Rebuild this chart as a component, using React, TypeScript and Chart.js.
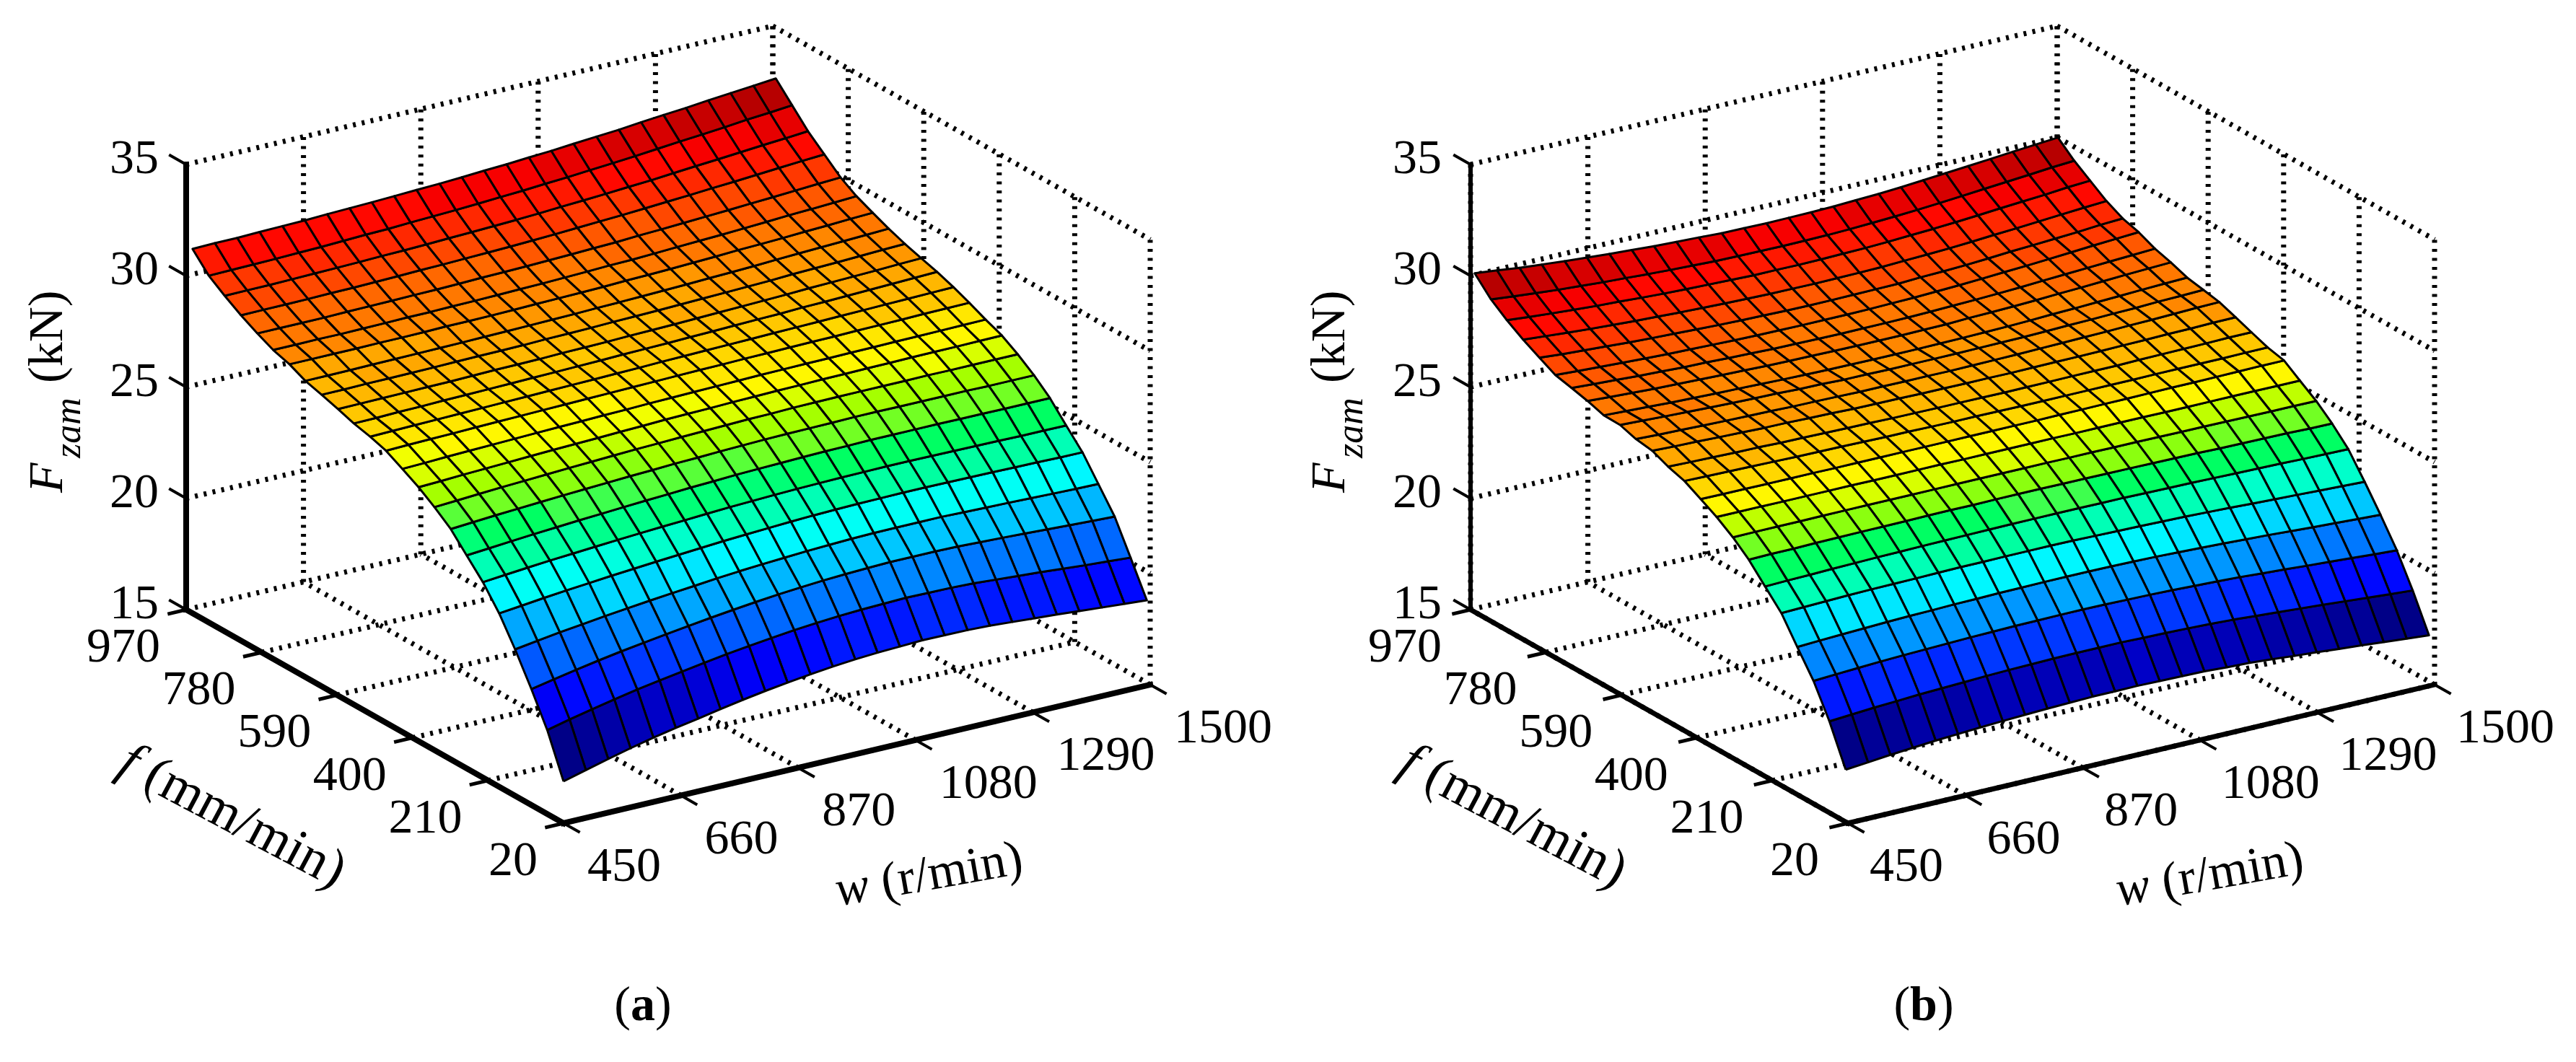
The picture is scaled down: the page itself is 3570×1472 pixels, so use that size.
import React, { useEffect, useRef } from "react";
import { Chart, registerables } from "chart.js";

Chart.register(...registerables);

const CANVAS_W = 3570;
const CANVAS_H = 1472;

const zTicks = [15, 20, 25, 30, 35];
const fTicks = [20, 210, 400, 590, 780, 970];
const wTicks = [450, 660, 870, 1080, 1290, 1500];

const fGrid = [20, 61, 101, 142, 182, 223, 264, 304, 345, 385, 426, 467, 507, 548, 588, 629, 670, 710, 751, 791, 832, 873, 913, 954];
const wGridA = [450, 490, 530, 570, 611, 651, 691, 731, 771, 811, 851, 892, 932, 972, 1012, 1052, 1092, 1132, 1173, 1213, 1253, 1293, 1333, 1373, 1413, 1454, 1494];
const wGridB = [446, 486, 526, 566, 607, 647, 687, 727, 767, 807, 847, 888, 928, 968, 1008, 1048, 1088, 1128, 1169, 1209, 1249, 1289, 1329, 1369, 1409, 1450, 1490];

// Fzam (kN), one row per fGrid value
const zamA = [
  [16.88,17.15,17.41,17.66,17.89,18.09,18.27,18.46,18.64,18.80,18.94,19.07,19.18,19.27,19.33,19.37,19.41,19.40,19.39,19.35,19.28,19.21,19.14,19.06,18.98,18.90,18.83],
  [18.77,19.01,19.23,19.44,19.64,19.81,19.97,20.13,20.28,20.41,20.53,20.64,20.73,20.80,20.85,20.88,20.91,20.89,20.88,20.84,20.77,20.70,20.63,20.55,20.47,20.40,20.33],
  [20.21,20.41,20.60,20.78,20.95,21.10,21.24,21.38,21.51,21.63,21.74,21.84,21.92,21.99,22.04,22.08,22.11,22.11,22.11,22.09,22.05,22.01,21.96,21.91,21.86,21.81,21.77],
  [21.58,21.73,21.87,21.99,22.12,22.23,22.34,22.44,22.53,22.63,22.71,22.78,22.84,22.90,22.94,22.98,23.00,23.01,23.01,23.01,22.98,22.95,22.93,22.90,22.87,22.84,22.82],
  [22.79,22.90,23.01,23.11,23.20,23.29,23.37,23.45,23.52,23.59,23.66,23.72,23.77,23.82,23.86,23.89,23.91,23.92,23.93,23.93,23.92,23.91,23.90,23.88,23.87,23.85,23.84],
  [23.78,23.87,23.96,24.04,24.11,24.18,24.25,24.31,24.37,24.42,24.48,24.53,24.57,24.61,24.64,24.66,24.68,24.69,24.70,24.70,24.69,24.68,24.67,24.66,24.64,24.64,24.63],
  [24.57,24.65,24.73,24.81,24.88,24.95,25.01,25.07,25.13,25.18,25.24,25.28,25.33,25.36,25.39,25.42,25.44,25.45,25.47,25.47,25.47,25.47,25.46,25.46,25.45,25.45,25.45],
  [25.35,25.42,25.49,25.55,25.61,25.67,25.72,25.77,25.82,25.86,25.91,25.94,25.98,26.01,26.04,26.06,26.07,26.08,26.10,26.10,26.09,26.09,26.09,26.09,26.07,26.07,26.07],
  [25.92,25.98,26.04,26.10,26.15,26.20,26.25,26.29,26.34,26.38,26.41,26.45,26.48,26.51,26.54,26.55,26.58,26.59,26.60,26.60,26.60,26.60,26.61,26.60,26.60,26.60,26.60],
  [26.41,26.45,26.50,26.54,26.58,26.62,26.66,26.69,26.72,26.76,26.79,26.83,26.85,26.87,26.90,26.92,26.94,26.95,26.97,26.98,26.99,27.00,27.01,27.02,27.02,27.03,27.04],
  [26.82,26.85,26.89,26.92,26.95,26.98,27.01,27.04,27.06,27.09,27.11,27.14,27.16,27.18,27.20,27.22,27.24,27.25,27.26,27.27,27.28,27.29,27.30,27.31,27.32,27.33,27.34],
  [27.22,27.25,27.27,27.29,27.32,27.34,27.36,27.38,27.40,27.42,27.44,27.46,27.48,27.50,27.52,27.53,27.55,27.56,27.58,27.59,27.60,27.62,27.63,27.64,27.66,27.67,27.68],
  [27.45,27.47,27.49,27.51,27.53,27.55,27.57,27.59,27.61,27.63,27.65,27.67,27.69,27.72,27.74,27.76,27.78,27.80,27.82,27.84,27.86,27.88,27.90,27.92,27.94,27.96,27.98],
  [27.63,27.64,27.67,27.68,27.71,27.72,27.74,27.76,27.78,27.80,27.82,27.84,27.87,27.89,27.91,27.94,27.96,27.99,28.02,28.04,28.08,28.10,28.13,28.16,28.19,28.22,28.25],
  [27.87,27.88,27.89,27.90,27.91,27.92,27.94,27.96,27.97,27.98,28.01,28.02,28.04,28.07,28.09,28.11,28.14,28.17,28.20,28.23,28.26,28.30,28.33,28.36,28.39,28.43,28.46],
  [28.10,28.10,28.12,28.12,28.13,28.14,28.16,28.17,28.18,28.19,28.22,28.23,28.25,28.28,28.30,28.32,28.35,28.38,28.41,28.44,28.47,28.52,28.55,28.58,28.62,28.66,28.69],
  [28.31,28.31,28.32,28.33,28.34,28.35,28.36,28.37,28.39,28.40,28.42,28.44,28.46,28.49,28.51,28.54,28.57,28.60,28.64,28.67,28.71,28.76,28.80,28.84,28.88,28.92,28.96],
  [28.65,28.65,28.65,28.65,28.66,28.66,28.67,28.69,28.69,28.70,28.72,28.74,28.76,28.78,28.80,28.84,28.86,28.89,28.93,28.97,29.02,29.05,29.09,29.14,29.18,29.23,29.27],
  [28.88,28.88,28.89,28.88,28.89,28.90,28.92,28.92,28.94,28.95,28.97,28.99,29.01,29.04,29.07,29.11,29.13,29.17,29.22,29.26,29.30,29.35,29.40,29.46,29.50,29.55,29.60],
  [29.22,29.22,29.22,29.22,29.24,29.25,29.26,29.28,29.29,29.31,29.34,29.36,29.38,29.41,29.44,29.48,29.51,29.57,29.61,29.66,29.71,29.76,29.82,29.87,29.93,29.99,30.04],
  [29.62,29.63,29.63,29.64,29.66,29.67,29.69,29.71,29.74,29.76,29.79,29.82,29.85,29.89,29.93,29.98,30.03,30.08,30.14,30.20,30.26,30.33,30.39,30.46,30.53,30.60,30.66],
  [30.08,30.09,30.09,30.11,30.13,30.15,30.17,30.20,30.22,30.25,30.29,30.32,30.36,30.40,30.45,30.51,30.56,30.62,30.69,30.75,30.83,30.91,30.98,31.06,31.14,31.21,31.29],
  [30.58,30.60,30.61,30.63,30.66,30.68,30.72,30.76,30.78,30.83,30.87,30.91,30.96,31.02,31.07,31.14,31.20,31.28,31.35,31.43,31.52,31.61,31.69,31.78,31.88,31.96,32.05],
  [31.37,31.39,31.39,31.42,31.44,31.46,31.50,31.53,31.56,31.60,31.64,31.68,31.73,31.79,31.84,31.91,31.97,32.05,32.13,32.20,32.30,32.39,32.47,32.57,32.66,32.75,32.84],
];

// Fzam (kN), one row per fGrid value
const zamB = [
  [17.43,17.52,17.62,17.70,17.78,17.84,17.90,17.95,17.99,18.03,18.06,18.09,18.09,18.10,18.08,18.06,18.04,17.98,17.94,17.87,17.78,17.71,17.62,17.54,17.45,17.36,17.28],
  [19.19,19.26,19.33,19.38,19.44,19.48,19.52,19.56,19.59,19.61,19.63,19.64,19.64,19.64,19.61,19.59,19.56,19.52,19.47,19.40,19.33,19.26,19.19,19.11,19.03,18.95,18.88],
  [20.60,20.66,20.71,20.76,20.80,20.83,20.86,20.89,20.91,20.93,20.94,20.95,20.95,20.94,20.92,20.90,20.87,20.83,20.79,20.74,20.67,20.61,20.54,20.48,20.41,20.34,20.28],
  [21.71,21.76,21.80,21.84,21.88,21.91,21.93,21.96,21.97,21.99,22.00,22.01,22.01,22.01,22.00,21.98,21.96,21.92,21.88,21.84,21.79,21.74,21.68,21.62,21.57,21.51,21.46],
  [22.83,22.86,22.89,22.92,22.94,22.95,22.96,22.98,22.99,22.99,23.00,23.00,23.00,22.99,22.97,22.95,22.93,22.90,22.88,22.84,22.80,22.75,22.71,22.67,22.62,22.58,22.54],
  [23.61,23.64,23.66,23.69,23.71,23.73,23.74,23.76,23.77,23.78,23.79,23.80,23.80,23.80,23.80,23.79,23.79,23.77,23.75,23.74,23.72,23.70,23.68,23.66,23.63,23.61,23.59],
  [24.40,24.42,24.42,24.44,24.45,24.46,24.46,24.47,24.48,24.49,24.48,24.49,24.49,24.49,24.48,24.48,24.47,24.46,24.45,24.44,24.43,24.40,24.39,24.38,24.37,24.34,24.33],
  [25.00,25.01,25.01,25.01,25.02,25.02,25.02,25.02,25.02,25.02,25.02,25.02,25.02,25.02,25.02,25.01,25.01,25.00,25.00,24.99,24.98,24.98,24.97,24.96,24.95,24.95,24.94],
  [25.50,25.50,25.50,25.49,25.49,25.49,25.49,25.48,25.48,25.48,25.48,25.47,25.47,25.47,25.47,25.47,25.46,25.46,25.46,25.46,25.45,25.45,25.45,25.45,25.45,25.44,25.44],
  [25.90,25.89,25.89,25.88,25.88,25.88,25.87,25.87,25.87,25.87,25.87,25.87,25.87,25.87,25.87,25.87,25.88,25.88,25.89,25.89,25.90,25.91,25.91,25.92,25.93,25.94,25.94],
  [26.30,26.28,26.26,26.24,26.22,26.20,26.19,26.18,26.16,26.14,26.14,26.12,26.11,26.11,26.10,26.09,26.09,26.09,26.09,26.09,26.09,26.10,26.10,26.10,26.10,26.11,26.11],
  [26.53,26.50,26.48,26.45,26.44,26.41,26.40,26.38,26.36,26.35,26.33,26.32,26.31,26.31,26.30,26.29,26.30,26.30,26.31,26.31,26.31,26.33,26.34,26.35,26.36,26.38,26.38],
  [26.84,26.80,26.78,26.74,26.71,26.68,26.67,26.64,26.62,26.59,26.58,26.57,26.55,26.55,26.54,26.54,26.53,26.54,26.55,26.55,26.56,26.58,26.59,26.61,26.62,26.64,26.65],
  [26.95,26.91,26.88,26.85,26.82,26.80,26.78,26.75,26.74,26.72,26.70,26.70,26.69,26.69,26.68,26.69,26.70,26.71,26.73,26.75,26.77,26.79,26.82,26.84,26.87,26.90,26.92],
  [27.18,27.14,27.09,27.05,27.01,26.98,26.95,26.93,26.89,26.88,26.84,26.84,26.82,26.82,26.82,26.82,26.83,26.84,26.85,26.87,26.90,26.92,26.95,26.97,27.01,27.03,27.06],
  [27.20,27.15,27.11,27.06,27.03,26.99,26.97,26.94,26.91,26.89,26.87,26.86,26.85,26.85,26.85,26.86,26.87,26.89,26.91,26.94,26.98,27.01,27.05,27.09,27.13,27.17,27.20],
  [27.43,27.37,27.32,27.27,27.24,27.20,27.17,27.14,27.11,27.09,27.08,27.06,27.05,27.05,27.05,27.06,27.07,27.11,27.13,27.16,27.20,27.25,27.29,27.34,27.39,27.43,27.47],
  [27.61,27.55,27.50,27.44,27.40,27.35,27.33,27.29,27.26,27.23,27.22,27.20,27.19,27.20,27.20,27.21,27.23,27.26,27.29,27.33,27.37,27.43,27.48,27.53,27.58,27.63,27.68],
  [27.78,27.72,27.67,27.62,27.57,27.53,27.50,27.47,27.44,27.42,27.41,27.40,27.40,27.40,27.41,27.43,27.45,27.49,27.53,27.58,27.64,27.69,27.75,27.82,27.89,27.95,28.01],
  [28.15,28.07,28.01,27.95,27.89,27.84,27.80,27.76,27.72,27.69,27.67,27.65,27.64,27.64,27.65,27.66,27.67,27.72,27.75,27.79,27.85,27.92,27.97,28.03,28.09,28.17,28.22],
  [28.55,28.47,28.39,28.32,28.26,28.20,28.16,28.11,28.07,28.04,28.01,27.99,27.98,27.97,27.98,27.99,28.01,28.05,28.09,28.13,28.19,28.26,28.32,28.39,28.46,28.53,28.59],
  [29.01,28.92,28.84,28.77,28.70,28.65,28.59,28.54,28.50,28.47,28.44,28.41,28.41,28.40,28.41,28.43,28.45,28.49,28.54,28.59,28.65,28.72,28.80,28.87,28.94,29.03,29.09],
  [29.54,29.44,29.35,29.26,29.19,29.12,29.07,29.01,28.96,28.92,28.88,28.86,28.85,28.84,28.85,28.86,28.89,28.93,28.98,29.04,29.11,29.19,29.27,29.35,29.43,29.52,29.58],
  [30.30,30.19,30.07,29.98,29.89,29.81,29.74,29.68,29.61,29.57,29.53,29.48,29.47,29.45,29.46,29.47,29.49,29.54,29.58,29.64,29.72,29.80,29.88,29.96,30.05,30.13,30.21],
];

const SERIF = '"Liberation Serif"';

const clamp01 = (v: number) => Math.max(0, Math.min(1, v));

// 64-level rainbow map as seen in the reference: like MATLAB jet, with a purer green middle
function jet(c: number) {
  const idx = Math.min(63, Math.max(0, Math.floor(c * 64)));
  const t = (idx + 0.5) / 64;
  const r = t < 0.5 ? 0 : clamp01(Math.min((t - 0.47) / 0.155, -4 * t + 4.5));
  const g = clamp01(Math.min(4 * t - 0.5, -4 * t + 3.5));
  const b = t < 0.375 ? clamp01(4 * t + 0.5) : clamp01((0.566 - t) / 0.191);
  return `rgb(${Math.round(r * 255)},${Math.round(g * 255)},${Math.round(b * 255)})`;
}

// orthographic view of the MATLAB axes box
function makeView(originX: number, originY: number) {
  return (f: number, w: number, z: number) => ({
    x: originX + ((w - 450) * 813) / 1050 - ((f - 20) * 523) / 950,
    y: originY - ((w - 450) * 192) / 1050 - ((f - 20) * 296) / 950 - ((z - 15) * 617) / 20,
  });
}

type Panel = {
  originX: number;
  zam: number[][];
  wGrid: number[];
  axisWidth: number;
  zAxisWidth: number;
  zLabelDx: number;
  fLabelDx: number;
  wLabelDx: number;
  fTitleAt: [number, number];
  wTitleAt: [number, number];
  zTitleX: number;
  caption: string;
  captionAt: [number, number];
};

const panels: Panel[] = [
  {
    originX: 781, zam: zamA, wGrid: wGridA, axisWidth: 8, zAxisWidth: 8,
    zLabelDx: -38, fLabelDx: -36, wLabelDx: 33,
    fTitleAt: [312, 1133], wTitleAt: [1291, 1217], zTitleX: 86,
    caption: "a", captionAt: [891, 1414],
  },
  {
    originX: 2561, zam: zamB, wGrid: wGridB, axisWidth: 7, zAxisWidth: 6,
    zLabelDx: -40, fLabelDx: -40, wLabelDx: 30,
    fTitleAt: [2087, 1133], wTitleAt: [3066, 1217], zTitleX: 1863,
    caption: "b", captionAt: [2666, 1414],
  },
];

function buildDatasets() {
  const datasets: any[] = [];
  for (const p of panels) {
    const view = makeView(p.originX, 1141);
    const dotted = (a: any, b: any) =>
      datasets.push({
        data: [a, b], showLine: true, pointRadius: 0, borderColor: "#000", borderWidth: 7,
        borderDash: [4, 8.5], order: 3, clip: false, fill: false,
      });
    const solid = (a: any, b: any, width: number) =>
      datasets.push({
        data: [a, b], showLine: true, pointRadius: 0, borderColor: "#000", borderWidth: width,
        borderCapStyle: "square", order: 1, clip: false, fill: false,
      });
    const fMax = fTicks[fTicks.length - 1];
    const fMin = fTicks[0];
    const wMax = wTicks[wTicks.length - 1];
    const wMin = wTicks[0];
    const zMax = zTicks[zTicks.length - 1];
    const zMin = zTicks[0];
    // walls and floor
    for (const w of wTicks) {
      dotted(view(fMax, w, zMin), view(fMax, w, zMax));
      dotted(view(fMin, w, zMin), view(fMax, w, zMin));
    }
    for (const f of fTicks) {
      dotted(view(f, wMax, zMin), view(f, wMax, zMax));
      dotted(view(f, wMin, zMin), view(f, wMax, zMin));
    }
    for (const z of zTicks.slice(1)) {
      dotted(view(fMax, wMin, z), view(fMax, wMax, z));
      dotted(view(fMax, wMax, z), view(fMin, wMax, z));
    }
    // surface
    const flat = p.zam.flat();
    const lo = Math.min(...flat);
    const hi = Math.max(...flat);
    for (let i = fGrid.length - 2; i >= 0; i--) {
      for (let j = 0; j < p.wGrid.length - 1; j++) {
        const corner = (ii: number, jj: number) => view(fGrid[ii], p.wGrid[jj], p.zam[ii][jj]);
        datasets.push({
          data: [corner(i, j), corner(i, j + 1), corner(i + 1, j + 1), corner(i + 1, j), corner(i, j)],
          showLine: true, pointRadius: 0, borderColor: "#000", borderWidth: 3,
          borderJoinStyle: "round", fill: false, order: 2, clip: false,
          cellColor: jet((p.zam[i][j] - lo) / (hi - lo)),
        });
      }
    }
    // axes
    solid(view(fMax, wMin, zMin), view(fMax, wMin, zMax), p.zAxisWidth);
    solid(view(fMax, wMin, zMin), view(fMin, wMin, zMin), p.axisWidth);
    solid(view(fMin, wMin, zMin), view(fMin, wMax, zMin), p.axisWidth);
    for (const z of zTicks) solid(view(fMax, wMin, z), view(fMax + 40, wMin, z), 4);
    for (const f of fTicks) solid(view(f, wMin, zMin), view(f, wMin - 30, zMin), 5);
    for (const w of wTicks) solid(view(fMin, w, zMin), view(fMin - 38, w, zMin), 4);
  }
  return datasets;
}

const cellFillPlugin = {
  id: "cellFill",
  beforeDatasetDraw(chart: any, args: any) {
    const color = chart.data.datasets[args.index].cellColor;
    if (!color) return;
    const pts = args.meta.data;
    const ctx = chart.ctx;
    ctx.save();
    ctx.beginPath();
    pts.forEach((pt: any, k: number) => (k ? ctx.lineTo(pt.x, pt.y) : ctx.moveTo(pt.x, pt.y)));
    ctx.closePath();
    ctx.fillStyle = color;
    ctx.fill();
    ctx.restore();
  },
};

type Run = { text: string; font: string; dy?: number };

function drawRuns(ctx: any, runs: Run[], x: number, y: number, angle: number, centred: boolean) {
  ctx.save();
  ctx.translate(x, y);
  ctx.rotate(angle);
  ctx.fillStyle = "#000";
  ctx.textBaseline = "alphabetic";
  ctx.textAlign = "left";
  let total = 0;
  for (const r of runs) {
    ctx.font = r.font;
    total += ctx.measureText(r.text).width;
  }
  let cx = centred ? -total / 2 : 0;
  for (const r of runs) {
    ctx.font = r.font;
    ctx.fillText(r.text, cx, r.dy ?? 0);
    cx += ctx.measureText(r.text).width;
  }
  ctx.restore();
}

const textPlugin = {
  id: "axisText",
  afterDraw(chart: any) {
    const ctx = chart.ctx;
    const sx = chart.scales.x;
    const sy = chart.scales.y;
    const reg = `68px ${SERIF}`;
    const ital = `italic 68px ${SERIF}`;
    for (const p of panels) {
      const view = makeView(p.originX, 1141);
      const px = (pt: any) => ({ x: sx.getPixelForValue(pt.x), y: sy.getPixelForValue(pt.y) });
      ctx.save();
      ctx.font = reg;
      ctx.fillStyle = "#000";
      ctx.textBaseline = "alphabetic";
      ctx.textAlign = "right";
      for (const z of zTicks) {
        const a = px(view(970, 450, z));
        ctx.fillText(String(z), a.x + p.zLabelDx, a.y - 11 + 23);
      }
      for (const f of fTicks) {
        const a = px(view(f, 450, 15));
        ctx.fillText(String(f), a.x + p.fLabelDx, a.y + 49 + 23);
      }
      ctx.textAlign = "left";
      for (const w of wTicks) {
        const a = px(view(20, w, 15));
        ctx.fillText(String(w), a.x + p.wLabelDx, a.y + 57 + 23);
      }
      ctx.restore();

      // z title, rotated
      drawRuns(ctx, [{ text: "F", font: ital }], p.zTitleX, 683, -Math.PI / 2, false);
      drawRuns(ctx, [{ text: "zam", font: `italic 52px ${SERIF}` }], p.zTitleX + 25, 635, -Math.PI / 2, false);
      drawRuns(ctx, [{ text: "(kN)", font: reg }], p.zTitleX, 531, -Math.PI / 2, false);

      const fi = `italic 75px ${SERIF}`;
      const fr = `75px ${SERIF}`;
      drawRuns(ctx, [{ text: "f", font: fi }, { text: " (mm/min)", font: fr }], p.fTitleAt[0], p.fTitleAt[1] + 18, (28 * Math.PI) / 180, true);
      drawRuns(
        ctx,
        [{ text: "w", font: `italic 70px ${SERIF}` }, { text: " (r/min)", font: `70px ${SERIF}` }],
        p.wTitleAt[0], p.wTitleAt[1] + 16, (-10 * Math.PI) / 180, true,
      );
      drawRuns(
        ctx,
        [{ text: "(", font: reg }, { text: p.caption, font: `bold 68px ${SERIF}` }, { text: ")", font: reg }],
        p.captionAt[0], p.captionAt[1], 0, true,
      );
    }
  },
};

export default function App() {
  const ref = useRef<HTMLCanvasElement | null>(null);
  useEffect(() => {
    const chart = new Chart(ref.current as HTMLCanvasElement, {
      type: "scatter",
      data: { datasets: buildDatasets() },
      options: {
        animation: false,
        responsive: false,
        devicePixelRatio: 1,
        events: [],
        normalized: true,
        layout: { padding: 0 },
        elements: { line: { tension: 0 } },
        plugins: { legend: { display: false }, tooltip: { enabled: false }, title: { display: false } },
        scales: {
          x: { type: "linear", display: false, min: 0, max: CANVAS_W },
          y: { type: "linear", display: false, min: 0, max: CANVAS_H, reverse: true },
        },
      },
      plugins: [cellFillPlugin, textPlugin],
    } as any);
    return () => chart.destroy();
  }, []);
  return (
    <div style={{ position: "fixed", left: 0, top: 0, width: CANVAS_W, height: CANVAS_H, background: "#fff" }}>
      <canvas ref={ref} width={CANVAS_W} height={CANVAS_H} style={{ display: "block", width: CANVAS_W, height: CANVAS_H }} />
    </div>
  );
}
